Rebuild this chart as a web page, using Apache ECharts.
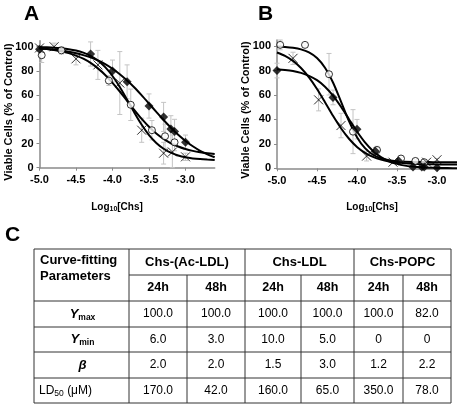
<!DOCTYPE html>
<html><head><meta charset="utf-8">
<script src="https://cdn.jsdelivr.net/npm/echarts@6/dist/echarts.min.js"></script>
<style>html,body{margin:0;padding:0;background:#fff}#c{width:457px;height:407px}</style>
</head><body><div id="c"></div>
<script>
// ---------- DATA ----------
const xTickValues = [-5.0, -4.5, -4.0, -3.5, -3.0];
const yTickValues = [0, 20, 40, 60, 80, 100];

// Panel A (24 h) measured points
const diamondA_x = [-5.0, -4.3, -4.0, -3.8, -3.5, -3.3, -3.2, -3.15, -3.0];
const diamondA_y = [98, 94, 80, 71, 51, 42, 32, 30, 21];
const diamondA_err = [2, 10, 9, 14, 10, 12, 11, 10, 6];
const circleA_x = [-4.97, -4.7, -4.05, -3.75, -3.46, -3.28, -3.15];
const circleA_y = [93, 97, 72, 52, 31, 26, 21];
const circleA_err = [6, 3, 4, 13, 8, 10, 7];
const crossA_x = [-5.0, -4.8, -4.5, -4.2, -3.9, -3.6, -3.3, -3.18, -3.0];
const crossA_y = [99, 100, 90, 85, 70, 31, 12, 13, 9];
const crossA_err = [2, 3, 5, 12, 26, 10, 9, 14, 3];

// Panel A fitted curves
const curveXA = [-5.0, -4.9, -4.8, -4.7, -4.6, -4.5, -4.4, -4.3, -4.2, -4.1, -4.0, -3.9, -3.8, -3.7, -3.6, -3.5, -3.4, -3.3, -3.2, -3.1, -3.0, -2.9, -2.8, -2.7, -2.6];
const curveA_diamond = [98.6, 98.2, 97.6, 96.9, 95.9, 94.7, 93.1, 91.2, 88.7, 85.6, 81.8, 77.3, 72.1, 66.3, 59.8, 53.0, 46.1, 39.4, 33.0, 27.2, 22.1, 17.7, 14.0, 11.0, 8.6];
const curveA_circle = [98.6, 98.1, 97.3, 96.2, 94.7, 92.7, 90.1, 86.6, 82.1, 76.7, 70.2, 63.0, 55.3, 47.6, 40.3, 33.8, 28.3, 23.8, 20.2, 17.5, 15.4, 13.9, 12.8, 12.0, 11.4];
const curveA_cross = [99.7, 99.5, 99.2, 98.7, 98.0, 96.9, 95.1, 92.5, 88.6, 83.1, 75.8, 66.7, 56.2, 45.5, 35.5, 27.0, 20.5, 15.7, 12.4, 10.1, 8.6, 7.7, 7.1, 6.7, 6.4];

// Panel B (48 h) measured points
const diamondB_x = [-5.0, -4.3, -4.0, -3.77, -3.48, -3.3, -3.19, -3.16, -3.0];
const diamondB_y = [80, 58, 32, 14, 6, 1, 1, 1, 0.5];
const diamondB_err = [6, 6, 8, 3, 2, 1, 1, 1, 1];
const circleB_x = [-4.96, -4.65, -4.35, -4.05, -3.75, -3.45, -3.27, -3.16];
const circleB_y = [101, 101, 77, 30, 15, 8, 6, 5];
const circleB_err = [4, 1, 17, 18, 3, 1, 1, 1];
const crossB_x = [-4.8, -4.48, -4.2, -3.88, -3.55, -3.13, -3.0];
const crossB_y = [90, 56, 35, 10, 5, 5, 7];
const crossB_err = [5, 9, 10, 4, 1, 1, 1];

// Panel B fitted curves
const curveXB = [-5.0, -4.9, -4.8, -4.7, -4.6, -4.5, -4.4, -4.3, -4.2, -4.1, -4.0, -3.9, -3.8, -3.7, -3.6, -3.5, -3.4, -3.3, -3.2, -3.1, -3.0, -2.9, -2.8, -2.75];
const curveB_diamond = [81.1, 80.5, 79.6, 78.1, 75.7, 72.1, 66.8, 59.5, 50.4, 40.2, 30.1, 21.2, 14.2, 9.2, 5.8, 3.6, 2.2, 1.4, 0.8, 0.5, 0.3, 0.2, 0.1, 0.1];
const curveB_circle = [99.7, 99.3, 98.6, 97.3, 94.8, 90.2, 82.3, 70.2, 54.6, 38.6, 25.5, 16.5, 11.1, 8.2, 6.6, 5.8, 5.4, 5.2, 5.1, 5.1, 5.0, 5.0, 5.0, 5.0];
const curveB_cross = [94.8, 92.0, 87.9, 82.1, 74.4, 64.9, 54.1, 43.0, 32.8, 24.2, 17.5, 12.7, 9.4, 7.1, 5.6, 4.7, 4.1, 3.7, 3.4, 3.3, 3.2, 3.1, 3.1, 3.1];

// Panel C table
const tableGroups = ['Chs-(Ac-LDL)', 'Chs-LDL', 'Chs-POPC'];
const tableTimes = ['24h', '48h', '24h', '48h', '24h', '48h'];
const tableYmax = ['100.0', '100.0', '100.0', '100.0', '100.0', '82.0'];
const tableYmin = ['6.0', '3.0', '10.0', '5.0', '0', '0'];
const tableBeta = ['2.0', '2.0', '1.5', '3.0', '1.2', '2.2'];
const tableLD50 = ['170.0', '42.0', '160.0', '65.0', '350.0', '78.0'];

// ---------- RENDER ----------
const FONT = "'Liberation Sans', Arial, Helvetica, sans-serif";
const AXIS_C = '#8a8a8a';
const BAR_C = '#c4c4c4';
const CROSS = 'path://M0,0L10,10M10,0L0,10';
const Y_TITLE = 'Viable Cells (% of Control)';

const pts = (xs, ys) => xs.map((x, i) => [x, ys[i]]);
const errs = (xs, ys, es) => xs.map((x, i) => [x, ys[i], es[i]]);

function errRender(params, api) {
  const x = api.value(0), y = api.value(1), e = api.value(2);
  const p1 = api.coord([x, y + e]);
  const p2 = api.coord([x, Math.max(0, y - e)]);
  const c = 2.5, st = { stroke: BAR_C, lineWidth: 1 };
  return { type: 'group', children: [
    { type: 'line', shape: { x1: p1[0], y1: p1[1], x2: p2[0], y2: p2[1] }, style: st },
    { type: 'line', shape: { x1: p1[0] - c, y1: p1[1], x2: p1[0] + c, y2: p1[1] }, style: st },
    { type: 'line', shape: { x1: p2[0] - c, y1: p2[1], x2: p2[0] + c, y2: p2[1] }, style: st }
  ]};
}
function errSeries(ax, xs, ys, es) {
  return { type: 'custom', xAxisIndex: ax, yAxisIndex: ax, data: errs(xs, ys, es), renderItem: errRender, z: 1, silent: true };
}
function curveSeries(ax, xs, ys) {
  return { type: 'line', xAxisIndex: ax, yAxisIndex: ax, data: pts(xs, ys), smooth: 0.3, showSymbol: false, symbol: 'none',
    lineStyle: { color: '#000', width: 2 }, z: 2, silent: true };
}
function markSeries(ax, xs, ys, kind) {
  const s = { type: 'scatter', xAxisIndex: ax, yAxisIndex: ax, data: pts(xs, ys), z: 3, silent: true };
  if (kind === 'diamond') { s.symbol = 'diamond'; s.symbolSize = 9; s.itemStyle = { color: '#000' }; }
  else if (kind === 'circle') { s.symbol = 'circle'; s.symbolSize = 7; s.itemStyle = { color: '#fff', borderColor: '#000', borderWidth: 1 }; }
  else { s.symbol = CROSS; s.symbolSize = 9; s.itemStyle = { color: 'none', borderColor: '#000', borderWidth: 1 }; }
  return s;
}
function xAx(grid, max) {
  return { gridIndex: grid, type: 'value', min: -5, max: max,
    axisLine: { show: true, lineStyle: { color: AXIS_C, width: 1.5 } },
    axisTick: { show: true, customValues: xTickValues, length: 3, lineStyle: { color: AXIS_C, width: 1 } },
    axisLabel: { customValues: xTickValues, formatter: v => v.toFixed(1), color: '#000', fontWeight: 'bold', fontSize: 11, fontFamily: FONT, margin: 7 },
    splitLine: { show: false } };
}
function yAx(grid) {
  return { gridIndex: grid, type: 'value', min: 0, max: 105,
    axisLine: { show: true, lineStyle: { color: AXIS_C, width: 1.5 } },
    axisTick: { show: true, customValues: yTickValues, length: 3, lineStyle: { color: AXIS_C, width: 1 } },
    axisLabel: { customValues: yTickValues, color: '#000', fontWeight: 'bold', fontSize: 11, fontFamily: FONT, margin: 6 },
    splitLine: { show: false } };
}

// table layout
const colEdges = [34, 129, 187, 245, 301, 354, 403, 451];
const rowEdges = [249, 275, 301, 327, 352, 378, 403];
function buildTable() {
  const g = [];
  const ls = { stroke: '#333', lineWidth: 1 };
  const L = (x1, y1, x2, y2) => g.push({ type: 'line', shape: { x1, y1, x2, y2 }, style: ls });
  const L0 = colEdges[0], R = colEdges[7], T = rowEdges[0], B = rowEdges[6];
  L(L0, T, R, T); L(L0, B, R, B); L(L0, T, L0, B); L(R, T, R, B);
  L(colEdges[1], rowEdges[1], R, rowEdges[1]);
  for (let r = 2; r <= 5; r++) L(L0, rowEdges[r], R, rowEdges[r]);
  [1, 3, 5].forEach(c => L(colEdges[c], T, colEdges[c], B));
  [2, 4, 6].forEach(c => L(colEdges[c], rowEdges[1], colEdges[c], B));
  const cy = r => (rowEdges[r] + rowEdges[r + 1]) / 2;
  const cx = c => (colEdges[c] + colEdges[c + 1]) / 2;
  const txt = (x, y, text, extra) => g.push({ type: 'text', x, y, style: Object.assign({
    text, fill: '#000', fontFamily: FONT, fontSize: 12, align: 'center', verticalAlign: 'middle' }, extra || {}) });
  txt(40, 268, 'Curve-fitting\nParameters', { fontWeight: 'bold', fontSize: 13, align: 'left', lineHeight: 16 });
  tableGroups.forEach((t, i) => txt((colEdges[1 + 2 * i] + colEdges[3 + 2 * i]) / 2, cy(0), t, { fontWeight: 'bold', fontSize: 13 }));
  tableTimes.forEach((t, i) => txt(cx(i + 1), cy(1), t, { fontWeight: 'bold', fontSize: 12.5 }));
  const rich = {
    i: { fontFamily: FONT, fontStyle: 'italic', fontWeight: 'bold', fontSize: 13, lineHeight: 16, verticalAlign: 'middle' },
    s: { fontFamily: FONT, fontWeight: 'bold', fontSize: 8.5, lineHeight: 8, verticalAlign: 'bottom' },
    n: { fontFamily: FONT, fontSize: 12, lineHeight: 16, verticalAlign: 'middle' },
    ns: { fontFamily: FONT, fontSize: 8.5, lineHeight: 8, verticalAlign: 'bottom' }
  };
  const labels = ['{i|Y}{s|max}', '{i|Y}{s|min}', '{i|β}'];
  labels.forEach((t, i) => txt(cx(0) + 1, cy(2 + i), t, { rich }));
  txt(39, cy(5), '{n|LD}{ns|50}{n| (μM)}', { rich, align: 'left' });
  [tableYmax, tableYmin, tableBeta, tableLD50].forEach((row, r) =>
    row.forEach((v, c) => txt(cx(c + 1), cy(2 + r), v)));
  return g;
}

const subRich = {
  m: { fontFamily: FONT, fontWeight: 'bold', fontSize: 10, lineHeight: 12, verticalAlign: 'middle' },
  s: { fontFamily: FONT, fontWeight: 'bold', fontSize: 7, lineHeight: 6, verticalAlign: 'bottom' }
};
const yTitleStyle = { text: Y_TITLE, fontFamily: FONT, fontWeight: 'bold', fontSize: 11, fill: '#000', align: 'center', verticalAlign: 'middle' };
const graphics = [
  { type: 'text', x: 24, y: 4, style: { text: 'A', fontFamily: FONT, fontWeight: 'bold', fontSize: 21, fill: '#000' } },
  { type: 'text', x: 258, y: 4, style: { text: 'B', fontFamily: FONT, fontWeight: 'bold', fontSize: 21, fill: '#000' } },
  { type: 'text', x: 5, y: 225, style: { text: 'C', fontFamily: FONT, fontWeight: 'bold', fontSize: 21, fill: '#000' } },
  { type: 'text', x: 9, y: 112, rotation: Math.PI / 2, style: yTitleStyle },
  { type: 'text', x: 246, y: 110, rotation: Math.PI / 2, style: yTitleStyle },
  { type: 'text', x: 117, y: 207, style: { text: '{m|Log}{s|10}{m|[Chs]}', rich: subRich, align: 'center', verticalAlign: 'middle' } },
  { type: 'text', x: 372, y: 207, style: { text: '{m|Log}{s|10}{m|[Chs]}', rich: subRich, align: 'center', verticalAlign: 'middle' } }
].concat(buildTable());

const chart = echarts.init(document.getElementById('c'), null, { renderer: 'canvas' });
chart.setOption({
  animation: false,
  backgroundColor: '#fff',
  grid: [
    { left: 39.5, top: 40.7, width: 175.2, height: 127 },
    { left: 277, top: 40, width: 180, height: 128.3 }
  ],
  xAxis: [xAx(0, -2.6), xAx(1, -2.75)],
  yAxis: [yAx(0), yAx(1)],
  series: [
    errSeries(0, diamondA_x, diamondA_y, diamondA_err),
    errSeries(0, circleA_x, circleA_y, circleA_err),
    errSeries(0, crossA_x, crossA_y, crossA_err),
    curveSeries(0, curveXA, curveA_diamond),
    curveSeries(0, curveXA, curveA_circle),
    curveSeries(0, curveXA, curveA_cross),
    markSeries(0, circleA_x, circleA_y, 'circle'),
    markSeries(0, crossA_x, crossA_y, 'cross'),
    markSeries(0, diamondA_x, diamondA_y, 'diamond'),
    errSeries(1, diamondB_x, diamondB_y, diamondB_err),
    errSeries(1, circleB_x, circleB_y, circleB_err),
    errSeries(1, crossB_x, crossB_y, crossB_err),
    curveSeries(1, curveXB, curveB_diamond),
    curveSeries(1, curveXB, curveB_circle),
    curveSeries(1, curveXB, curveB_cross),
    markSeries(1, circleB_x, circleB_y, 'circle'),
    markSeries(1, crossB_x, crossB_y, 'cross'),
    markSeries(1, diamondB_x, diamondB_y, 'diamond')
  ],
  graphic: graphics
});
</script>
</body></html>
